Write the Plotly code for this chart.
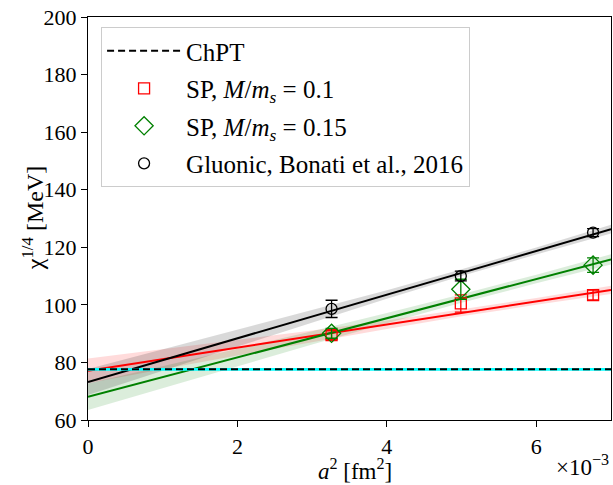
import plotly.graph_objects as go

# Data (x in units of 1e-3 fm^2)
a2 = [3.26, 4.99, 6.76]

sp01_y = [89.5, 100.5, 103.4]
sp01_err = [1.5, 3.0, 1.7]

sp015_y = [90.1, 105.4, 113.8]
sp015_err = [1.7, 3.5, 2.5]

glu_y = [98.6, 110.0, 125.1]
glu_err = [3.0, 1.7, 1.4]

# Fit lines
fit_x = [0, 1, 2, 3, 4, 5, 6, 7]
fit_red = [77.1, 81.1, 85.1, 89.1, 93.1, 97.2, 101.2, 105.2]
fit_red_hw = [4.3, 3.5, 2.7, 2.0, 1.5, 1.2, 1.2, 1.4]
fit_green = [68.1, 74.9, 81.7, 88.5, 95.4, 102.2, 109.0, 115.8]
fit_green_hw = [4.6, 3.8, 3.0, 2.3, 1.8, 1.5, 1.5, 1.8]
fit_black = [73.2, 80.8, 88.4, 96.0, 103.6, 111.2, 118.7, 126.3]
fit_black_hw = [4.5, 3.7, 2.9, 2.1, 1.5, 1.2, 1.2, 1.5]

chpt_x = [0, 7]
chpt_val = 77.6
chpt_err = 0.5

x_ticks = [0, 2, 4, 6]
y_ticks = [60, 80, 100, 120, 140, 160, 180, 200]

FONT = "Liberation Serif"

fig = go.Figure()

def band(xs, ys, hw, fillcolor):
    upper = [y + h for y, h in zip(ys, hw)]
    lower = [y - h for y, h in zip(ys, hw)]
    fig.add_trace(go.Scatter(x=xs + xs[::-1], y=upper + lower[::-1], fill="toself",
                             fillcolor=fillcolor, line=dict(width=0), mode="lines",
                             showlegend=False, hoverinfo="skip"))

band(fit_x, fit_red, fit_red_hw, "rgba(255,0,0,0.14)")
band(fit_x, fit_green, fit_green_hw, "rgba(0,128,0,0.14)")
band(fit_x, fit_black, fit_black_hw, "rgba(0,0,0,0.15)")

fig.add_trace(go.Scatter(x=fit_x, y=fit_red, mode="lines", line=dict(color="red", width=2), showlegend=False))
fig.add_trace(go.Scatter(x=fit_x, y=fit_green, mode="lines", line=dict(color="green", width=2), showlegend=False))
fig.add_trace(go.Scatter(x=fit_x, y=fit_black, mode="lines", line=dict(color="black", width=2), showlegend=False))

# ChPT cyan band
fig.add_trace(go.Scatter(x=chpt_x + chpt_x[::-1],
                         y=[chpt_val + chpt_err] * 2 + [chpt_val - chpt_err] * 2,
                         fill="toself", fillcolor="cyan", line=dict(width=0), mode="lines",
                         showlegend=False, hoverinfo="skip"))
fig.add_trace(go.Scatter(x=chpt_x, y=[chpt_val] * 2, mode="lines", name="ChPT",
                         line=dict(color="black", width=2, dash="7px,4px"), legendgroup="a"))

fig.add_trace(go.Scatter(x=a2, y=sp01_y, mode="markers", name="SP, <i>M</i>/<i>m</i><sub><i>s</i></sub> = 0.1",
                         marker=dict(symbol="square-open", size=11, color="red", line=dict(width=1.3)),
                         error_y=dict(type="data", array=sp01_err, color="red", thickness=1.3, width=6),
                         legendgroup="b"))
fig.add_trace(go.Scatter(x=a2, y=sp015_y, mode="markers", name="SP, <i>M</i>/<i>m</i><sub><i>s</i></sub> = 0.15",
                         marker=dict(symbol="diamond-open", size=14, color="green", line=dict(width=1.3)),
                         error_y=dict(type="data", array=sp015_err, color="green", thickness=1.3, width=6),
                         legendgroup="c"))
fig.add_trace(go.Scatter(x=a2, y=glu_y, mode="markers", name="Gluonic, Bonati et al., 2016",
                         marker=dict(symbol="circle-open", size=11, color="black", line=dict(width=1.3)),
                         error_y=dict(type="data", array=glu_err, color="black", thickness=1.3, width=6),
                         legendgroup="d"))

axis_common = dict(showline=True, linecolor="black", linewidth=1.2, mirror=True,
                   ticks="outside", ticklen=6, tickwidth=1.2, tickcolor="black",
                   showgrid=False, zeroline=False, automargin=False,
                   ticklabeloverflow="allow",
                   tickfont=dict(family=FONT, size=22, color="black"))

fig.update_layout(
    width=613, height=485,
    margin=dict(l=88, r=2, t=17, b=65),
    plot_bgcolor="white", paper_bgcolor="white",
    font=dict(family=FONT, size=22, color="black"),
    xaxis=dict(range=[0, 7], tickvals=x_ticks, **axis_common),
    yaxis=dict(range=[60, 200], tickvals=y_ticks, **axis_common),
    legend=dict(x=0.025, y=0.975, xanchor="left", yanchor="top",
                bgcolor="rgba(255,255,255,0.8)", bordercolor="#cccccc", borderwidth=1,
                font=dict(family=FONT, size=25), tracegroupgap=2, itemwidth=74,
                traceorder="grouped"),
    annotations=[
        dict(text="×10<sup>−3</sup>", x=1.0, y=-0.112, xref="paper", yref="paper",
             xanchor="right", yanchor="middle", showarrow=False,
             font=dict(family=FONT, size=23)),
        dict(text="<i>a</i><sup>2</sup> [fm<sup>2</sup>]", x=0.51, y=-0.123, xref="paper", yref="paper",
             xanchor="center", yanchor="middle", showarrow=False,
             font=dict(family=FONT, size=23)),
        dict(text="χ<sup>1/4</sup> [MeV]", x=-0.105, y=0.501, xref="paper", yref="paper",
             xanchor="center", yanchor="middle", showarrow=False, textangle=-90,
             font=dict(family=FONT, size=24)),
    ],
)

fig.write_html("out.html", config={"displayModeBar": False},
               post_script="document.body.style.margin='0';document.body.style.overflow='hidden';")
